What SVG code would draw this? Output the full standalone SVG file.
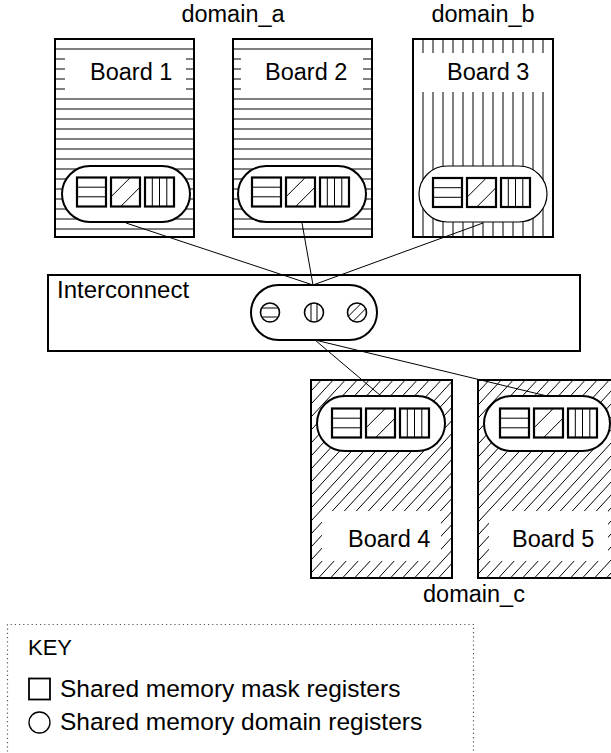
<svg xmlns="http://www.w3.org/2000/svg" width="611" height="753" viewBox="0 0 611 753">
<style>
text{font-family:"Liberation Sans",Arial,Helvetica,sans-serif;fill:#000}
.lbl{font-size:23.5px}
.key{font-size:24.5px}
.border{fill:none;stroke:#000;stroke-width:2}
.stad{fill:#fff;stroke:#000;stroke-width:2}
.stad-thin{fill:#fff;stroke:#000;stroke-width:1.2}
.sq{fill:#fff;stroke:#000;stroke-width:2.2}
.in{stroke:#000;stroke-width:1;fill:none}
.white{fill:#fff;stroke:none}
.conn{stroke:#000;stroke-width:1;fill:none}
.reg{fill:#fff;stroke:#000;stroke-width:1.6}
</style>
<defs>
<pattern id="hpat" patternUnits="userSpaceOnUse" width="10" height="10">
<line x1="0" y1="9" x2="10" y2="9" stroke="#000" stroke-width="1"/>
</pattern>
<pattern id="vpat" patternUnits="userSpaceOnUse" width="10" height="10">
<line x1="3" y1="0" x2="3" y2="10" stroke="#000" stroke-width="1"/>
</pattern>
<pattern id="dpat" patternUnits="userSpaceOnUse" width="12" height="13">
<path d="M0,13 L12,0 M-1.5,1.6 L1.5,-1.6 M10.5,14.6 L13.5,11.4" stroke="#000" stroke-width="1"/>
</pattern>
<g id="regs">
<rect class="sq" x="0" y="0" width="29" height="29"/>
<line class="in" x1="0" y1="9.7" x2="29" y2="9.7"/>
<line class="in" x1="0" y1="19.3" x2="29" y2="19.3"/>
<rect class="sq" x="34" y="0" width="29" height="29"/>
<line class="in" x1="34" y1="19.3" x2="53.3" y2="0"/>
<line class="in" x1="43.7" y1="29" x2="63" y2="9.7"/>
<rect class="sq" x="68" y="0" width="29" height="29"/>
<line class="in" x1="75.3" y1="0" x2="75.3" y2="29"/>
<line class="in" x1="82.5" y1="0" x2="82.5" y2="29"/>
<line class="in" x1="89.8" y1="0" x2="89.8" y2="29"/>
</g>
</defs>
<rect width="611" height="753" fill="#fff"/>

<text class="lbl" x="233" y="22" text-anchor="middle">domain_a</text>
<text class="lbl" x="483" y="22" text-anchor="middle">domain_b</text>

<g id="board1">
<rect x="55" y="39" width="139" height="198" fill="url(#hpat)"/>
<rect class="white" x="65" y="52" width="121" height="44"/>
<rect class="border" x="55" y="39" width="139" height="198"/>
<text class="lbl" x="90" y="80">Board 1</text>
<rect class="stad" x="62" y="166" width="128" height="56" rx="28"/>
<use href="#regs" x="77" y="177.5"/>
</g>

<g id="board2">
<rect x="233" y="39" width="139" height="198" fill="url(#hpat)"/>
<rect class="white" x="241" y="52" width="122" height="44"/>
<rect class="border" x="233" y="39" width="139" height="198"/>
<text class="lbl" x="265" y="80">Board 2</text>
<rect class="stad" x="238" y="166" width="128" height="56" rx="28"/>
<use href="#regs" x="252" y="177.5"/>
</g>

<g id="board3">
<rect x="413" y="39" width="140" height="198" fill="url(#vpat)"/>
<rect class="white" x="414" y="53" width="138" height="39"/>
<rect class="border" x="413" y="39" width="140" height="198"/>
<text class="lbl" x="447" y="80">Board 3</text>
<rect class="stad-thin" x="419" y="166" width="128" height="56" rx="28"/>
<use href="#regs" x="433" y="178"/>
</g>

<g id="interconnect">
<rect x="48" y="275" width="532" height="76" fill="#fff" stroke="#000" stroke-width="2"/>
<text x="57" y="298" style="font-size:24px">Interconnect</text>
<rect class="stad" x="251" y="285" width="126" height="55" rx="27.5"/>
<circle class="reg" cx="270" cy="312.5" r="9.5"/>
<line class="in" x1="261.6" y1="308" x2="278.4" y2="308"/>
<line class="in" x1="261.6" y1="317" x2="278.4" y2="317"/>
<circle class="reg" cx="314" cy="312.5" r="9.5"/>
<line class="in" x1="311" y1="303.5" x2="311" y2="321.5"/>
<line class="in" x1="317" y1="303.5" x2="317" y2="321.5"/>
<circle class="reg" cx="357" cy="312.5" r="9.5"/>
<line class="in" x1="348.3" y1="316.3" x2="360.8" y2="303.8"/>
<line class="in" x1="353.2" y1="321.2" x2="365.7" y2="308.7"/>
</g>

<g id="board4">
<rect x="311" y="380" width="141" height="198" fill="url(#dpat)"/>
<rect class="white" x="322" y="511" width="119" height="50"/>
<rect class="border" x="311" y="380" width="141" height="198"/>
<text class="lbl" x="348" y="547">Board 4</text>
<rect class="stad" x="317" y="396" width="128" height="55" rx="27.5"/>
<use href="#regs" x="332" y="408.5"/>
</g>

<g id="board5">
<rect x="478" y="380" width="141" height="198" fill="url(#dpat)"/>
<rect class="white" x="489" y="511" width="119" height="50"/>
<rect class="border" x="478" y="380" width="141" height="198"/>
<text class="lbl" x="512" y="547">Board 5</text>
<rect class="stad" x="484" y="396" width="126" height="55" rx="27.5"/>
<use href="#regs" x="500" y="408.5"/>
</g>

<text class="lbl" x="474" y="602" text-anchor="middle">domain_c</text>

<g id="connectors">
<line class="conn" x1="126" y1="223" x2="313" y2="285"/>
<line class="conn" x1="302" y1="223" x2="313" y2="285"/>
<line class="conn" x1="483" y1="223" x2="313" y2="285"/>
<line class="conn" x1="315" y1="340" x2="381" y2="396"/>
<line class="conn" x1="315" y1="340" x2="547" y2="396"/>
</g>

<g id="key">
<path d="M7.5,760 V624.5 H473.5 V760" fill="none" stroke="#555" stroke-width="1.2" stroke-dasharray="1.2 3"/>
<text x="28" y="655" style="font-size:22px">KEY</text>
<rect x="29" y="678.5" width="21" height="21" fill="none" stroke="#000" stroke-width="1.8"/>
<text class="key" x="60" y="697">Shared memory mask registers</text>
<circle cx="39.5" cy="722.5" r="10.5" fill="none" stroke="#000" stroke-width="1.3"/>
<text class="key" x="60" y="730">Shared memory domain registers</text>
</g>
</svg>
